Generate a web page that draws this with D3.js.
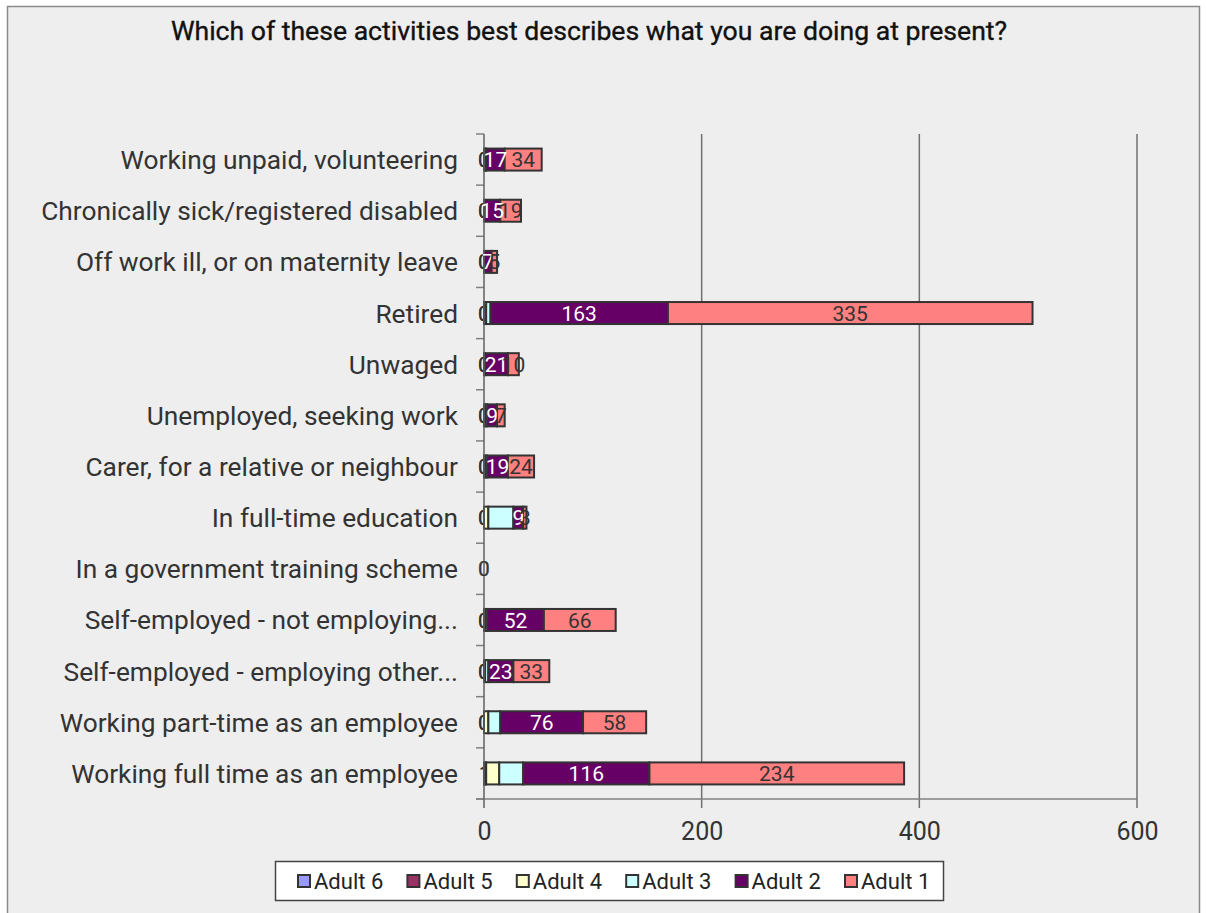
<!DOCTYPE html>
<html>
<head>
<meta charset="utf-8">
<script src="https://cdn.jsdelivr.net/npm/d3@7"></script>
<style>
  html, body { margin: 0; padding: 0; background: #ffffff; }
  svg { display: block; }
  text { font-family: Roboto, "Liberation Sans", Arial, sans-serif; }
</style>
</head>
<body>
<svg id="chart" width="1206" height="913"></svg>
<script>
// ---- Data (top-to-bottom as displayed) ----
const title = "Which of these activities best describes what you are doing at present?";
const categories = [
  "Working unpaid, volunteering",
  "Chronically sick/registered disabled",
  "Off work ill, or on maternity leave",
  "Retired",
  "Unwaged",
  "Unemployed, seeking work",
  "Carer, for a relative or neighbour",
  "In full-time education",
  "In a government training scheme",
  "Self-employed - not employing...",
  "Self-employed - employing other...",
  "Working part-time as an employee",
  "Working full time as an employee"
];
const seriesNames = ["Adult 6", "Adult 5", "Adult 4", "Adult 3", "Adult 2", "Adult 1"];
const adult6 = [0, 0, 0, 0, 0, 0, 0, 0, 0, 0, 0, 0, 1];
const adult5 = [0, 0, 0, 0, 0, 0, 0, 0, 0, 0, 0, 0, 1];
const adult4 = [1, 0, 0, 2, 0, 1, 1, 4, 0, 1, 1, 4, 12];
const adult3 = [1, 0, 0, 4, 1, 2, 2, 23, 0, 2, 3, 11, 22];
const adult2 = [17, 15, 7, 163, 21, 9, 19, 9, 0, 52, 23, 76, 116];
const adult1 = [34, 19, 5, 335, 10, 7, 24, 3, 0, 66, 33, 58, 234];
const xTicks = [0, 200, 400, 600];

const seriesColors = ["#9999FF", "#993366", "#FFFFCC", "#CCFFFF", "#660066", "#FF8080"];
const labelColors  = ["#333333", "#333333", "#333333", "#333333", "#FFFFFF", "#333333"];
const showLabels   = [true, true, false, false, true, true];
const labelsOnTop  = [false, false, false, false, true, true];

const seriesValues = [adult6, adult5, adult4, adult3, adult2, adult1];
const table = categories.map((c, i) => {
  const row = { category: c };
  seriesNames.forEach((s, k) => row[s] = seriesValues[k][i]);
  return row;
});

// ---- Layout ----
const svg = d3.select("#chart");
const plot = { left: 484, right: 1137, top: 134, bottom: 799 };
const FONT = "Roboto, 'Liberation Sans', Arial, sans-serif";

// outer chart area
svg.append("rect").attr("x", 7.5).attr("y", 6.5).attr("width", 1192).attr("height", 920)
  .attr("fill", "#EEEEEE").attr("stroke", "#8a8a8a").attr("stroke-width", 1.5);

svg.append("text").attr("x", 589).attr("y", 30).attr("dy", "0.36em").attr("text-anchor", "middle")
  .attr("font-size", 26.6).attr("fill", "#111").attr("stroke", "#111").attr("stroke-width", 0.35)
  .text(title);

const x = d3.scaleLinear().domain([0, 600]).range([plot.left, plot.right]);
const y = d3.scaleBand().domain(categories).range([plot.top, plot.bottom])
  .paddingInner(0.57).paddingOuter(0.285);

// gridlines
svg.append("g").selectAll("line").data(xTicks.slice(1)).join("line")
  .attr("x1", d => x(d)).attr("x2", d => x(d))
  .attr("y1", plot.top).attr("y2", plot.bottom + 9)
  .attr("stroke", "#707070").attr("stroke-width", 1.5);

// x axis line
svg.append("line").attr("x1", plot.left - 8).attr("x2", plot.right)
  .attr("y1", plot.bottom).attr("y2", plot.bottom)
  .attr("stroke", "#808080").attr("stroke-width", 1.5);

// x axis with d3
const xAxis = d3.axisBottom(x).tickValues(xTicks).tickSize(0).tickPadding(0).tickFormat(d3.format("d"));
const gx = svg.append("g").attr("transform", `translate(0,${plot.bottom + 32})`).call(xAxis);
gx.select(".domain").remove();
gx.selectAll("text").attr("font-size", 25).attr("fill", "#333").attr("y", 0).attr("dy", "0.36em")
  .attr("font-family", FONT);

// y axis ticks at band boundaries
const step = y.step();
const boundaries = d3.range(categories.length + 1).map(i => plot.top + i * step);
svg.append("g").selectAll("line").data(boundaries).join("line")
  .attr("x1", plot.left - 8).attr("x2", plot.left)
  .attr("y1", d => d).attr("y2", d => d)
  .attr("stroke", "#808080").attr("stroke-width", 1.5);

// category labels
const yAxis = d3.axisLeft(y).tickSize(0).tickPadding(0);
const gy = svg.append("g").attr("transform", `translate(${plot.left - 26},0)`).call(yAxis);
gy.select(".domain").remove();
gy.selectAll("text").attr("font-size", 26.3).attr("fill", "#333").attr("dy", "0.36em")
  .attr("font-family", FONT);

// stacked data
const stacked = d3.stack().keys(seriesNames)(table);

function drawLabels(layerFilter) {
  stacked.forEach((layer, k) => {
    if (!showLabels[k] || !layerFilter(k)) return;
    svg.append("g").selectAll("text").data(layer).join("text")
      .attr("x", d => (x(d[0]) + x(d[1])) / 2)
      .attr("y", d => y(d.data.category) + y.bandwidth() / 2)
      .attr("dy", "0.36em")
      .attr("text-anchor", "middle")
      .attr("font-size", 21)
      .attr("fill", labelColors[k])
      .text(d => d.data[seriesNames[k]]);
  });
}
// labels of first series sit beneath the bars
drawLabels(k => !labelsOnTop[k]);

// bars
stacked.forEach((layer, k) => {
  svg.append("g").selectAll("rect").data(layer).join("rect")
    .attr("x", d => x(d[0]))
    .attr("y", d => y(d.data.category))
    .attr("width", d => Math.max(0, x(d[1]) - x(d[0])))
    .attr("height", y.bandwidth())
    .attr("fill", seriesColors[k])
    .attr("stroke", "#333333")
    .attr("stroke-width", d => (d[1] - d[0]) > 0 ? 2 : 0);
});

// y axis line (0)
svg.append("line").attr("x1", plot.left).attr("x2", plot.left)
  .attr("y1", plot.top).attr("y2", plot.bottom + 9)
  .attr("stroke", "#606060").attr("stroke-width", 1.5);

drawLabels(k => labelsOnTop[k]);

// legend
const legend = svg.append("g");
legend.append("rect").attr("x", 275.5).attr("y", 861.5).attr("width", 668).attr("height", 39)
  .attr("fill", "#ffffff").attr("stroke", "#444").attr("stroke-width", 1.5);
const legX = d3.scalePoint().domain(seriesNames).range([298, 845]);
const items = legend.selectAll("g.item").data(seriesNames).join("g").attr("class", "item")
  .attr("transform", d => `translate(${legX(d)},881)`);
items.append("rect").attr("x", 0).attr("y", -6).attr("width", 12).attr("height", 12)
  .attr("fill", (d, i) => seriesColors[i]).attr("stroke", "#333").attr("stroke-width", 2);
items.append("text").attr("x", 16).attr("y", 0).attr("dy", "0.36em")
  .attr("font-size", 22).attr("fill", "#222").text(d => d);
</script>
</body>
</html>
